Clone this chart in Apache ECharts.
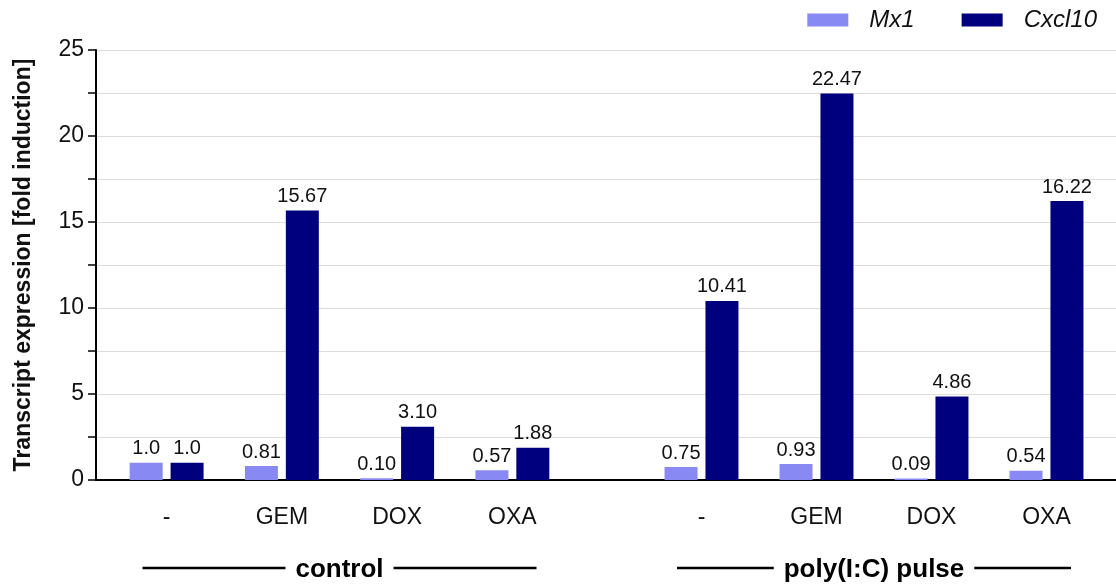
<!DOCTYPE html>
<html>
<head>
<meta charset="utf-8">
<script src="https://cdn.jsdelivr.net/npm/echarts@6/dist/echarts.min.js"></script>
<style>
html,body{margin:0;padding:0;background:#fff;}
#c{width:1116px;height:587px;}
</style>
</head>
<body>
<div id="c"></div>
<script>
const categories = ['-', 'GEM', 'DOX', 'OXA'];
const groups = ['control', 'poly(I:C) pulse'];
const seriesNames = ['Mx1', 'Cxcl10'];
const mx1Control = [1.0, 0.81, 0.10, 0.57];
const cxcl10Control = [1.0, 15.67, 3.10, 1.88];
const mx1Poly = [0.75, 0.93, 0.09, 0.54];
const cxcl10Poly = [10.41, 22.47, 4.86, 16.22];
const yTicks = [0, 5, 10, 15, 20, 25];
const yTitle = 'Transcript expression [fold induction]';

const FONT = '"Liberation Sans", Arial, sans-serif';
const colors = ['#8989F4', '#00007E'];

const chart = echarts.init(document.getElementById('c'), null, {renderer: 'canvas'});

const gridTop = 50, gridBottom = 107;
const gA = {left: 109, width: 461};
const gB = {left: 644, width: 460};

function labelFmt(p) {
  return p.value === 1 ? '1.0' : p.value.toFixed(2);
}

function barSeries(name, data, axisIdx, color) {
  return {
    name: name,
    type: 'bar',
    xAxisIndex: axisIdx,
    yAxisIndex: axisIdx,
    data: data,
    barWidth: 33,
    barGap: '24%',
    itemStyle: {color: color},
    label: {
      show: true,
      position: 'top',
      distance: 4,
      formatter: labelFmt,
      fontFamily: FONT,
      fontSize: 20,
      color: '#111'
    },
    z: 3
  };
}

function catAxis(gridIndex) {
  return {
    type: 'category',
    gridIndex: gridIndex,
    data: categories,
    axisLine: {show: false},
    axisTick: {show: false},
    axisLabel: {fontFamily: FONT, fontSize: 23, color: '#111', margin: 26},
    splitLine: {show: false}
  };
}

function hiddenY(gridIndex) {
  return {
    type: 'value', gridIndex: gridIndex, min: 0, max: 25, interval: 2.5, show: false,
    splitLine: {show: false}
  };
}

function groupGraphic(grid, text) {
  const cx = grid.left + grid.width / 2;
  const half = 197;
  return [
    {
      type: 'line', z: 10,
      shape: {x1: cx - half, y1: 568, x2: cx + half, y2: 568},
      style: {stroke: '#000', lineWidth: 2.5}
    },
    {
      type: 'text', z: 11,
      x: cx, y: 570,
      style: {
        text: text, font: 'bold 26px ' + FONT, fill: '#000',
        align: 'center', verticalAlign: 'middle',
        backgroundColor: '#fff', padding: [0, 10, 0, 10]
      }
    }
  ];
}

const option = {
  animation: false,
  backgroundColor: '#fff',
  legend: {
    data: seriesNames,
    right: 14,
    top: 3,
    itemWidth: 41,
    itemHeight: 13,
    itemGap: 47,
    icon: 'rect',
    textStyle: {fontFamily: FONT, fontSize: 24, fontStyle: 'italic', color: '#111', padding: [0, 0, 0, 16]}
  },
  grid: [
    {left: 96, right: 0, top: gridTop, bottom: gridBottom, outerBoundsMode: 'none'},
    {left: gA.left, width: gA.width, top: gridTop, bottom: gridBottom, outerBoundsMode: 'none'},
    {left: gB.left, width: gB.width, top: gridTop, bottom: gridBottom, outerBoundsMode: 'none'}
  ],
  xAxis: [
    {
      type: 'value', gridIndex: 0, min: 0, max: 1,
      axisLine: {show: true, onZero: false, lineStyle: {color: '#000', width: 2}},
      axisTick: {show: false}, axisLabel: {show: false}, splitLine: {show: false}
    },
    catAxis(1),
    catAxis(2)
  ],
  yAxis: [
    {
      type: 'value', gridIndex: 0, min: 0, max: 25, interval: 2.5,
      name: yTitle,
      nameLocation: 'middle',
      nameGap: 61,
      nameTextStyle: {fontFamily: FONT, fontSize: 23, fontWeight: 'bold', color: '#111'},
      axisLine: {show: true, lineStyle: {color: '#000', width: 2}},
      axisTick: {show: true, length: 8, lineStyle: {color: '#000', width: 1.5}},
      axisLabel: {
        fontFamily: FONT, fontSize: 23, color: '#111', margin: 12,
        formatter: function (v) { return yTicks.indexOf(v) >= 0 ? String(v) : ''; }
      },
      splitLine: {show: true, lineStyle: {color: '#dcdcdc', width: 1}}
    },
    hiddenY(1),
    hiddenY(2)
  ],
  graphic: [].concat(groupGraphic(gA, groups[0]), groupGraphic(gB, groups[1])),
  series: [
    barSeries(seriesNames[0], mx1Control, 1, colors[0]),
    barSeries(seriesNames[1], cxcl10Control, 1, colors[1]),
    barSeries(seriesNames[0], mx1Poly, 2, colors[0]),
    barSeries(seriesNames[1], cxcl10Poly, 2, colors[1])
  ]
};

chart.setOption(option);
</script>
</body>
</html>
